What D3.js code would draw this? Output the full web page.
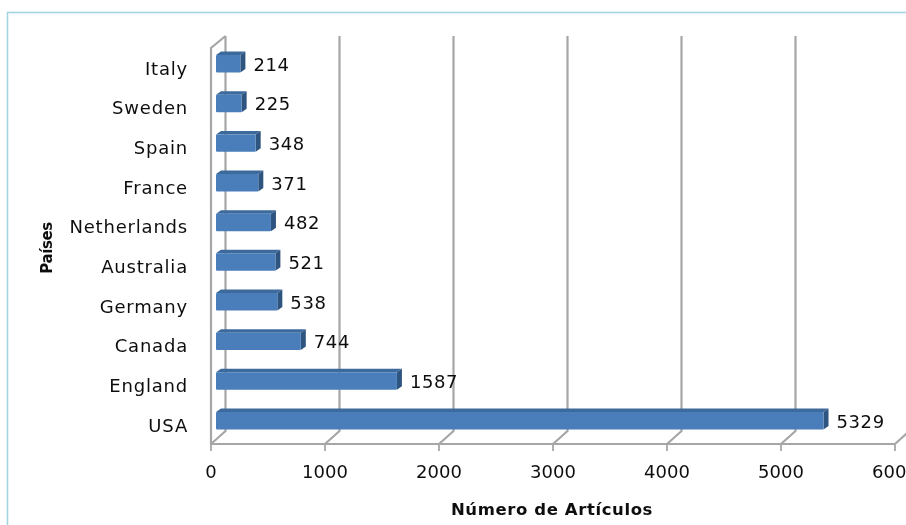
<!DOCTYPE html>
<html><head><meta charset="utf-8">
<script src="https://cdnjs.cloudflare.com/ajax/libs/d3/7.8.5/d3.min.js"></script>
<style>html,body{margin:0;padding:0;background:#fff;overflow:hidden}svg{display:block}
text{font-family:"DejaVu Sans",sans-serif;fill:#111}</style></head><body>
<svg id="c" width="906" height="525"></svg>
<script>
const paises = ["Italy","Sweden","Spain","France","Netherlands","Australia","Germany","Canada","England","USA"];
const articulos = [214,225,348,371,482,521,538,744,1587,5329];
const xTicks = [0,1000,2000,3000,4000,5000,6000];
const xTitle = "Número de Artículos";
const yTitle = "Países";

const svg = d3.select("#c");
const defs = svg.append("defs");
defs.append("filter").attr("id","soft").append("feGaussianBlur").attr("stdDeviation",0.4);
const frontL=211, frontR=895, frontB=444, frontT=48, dx=14.5, dy=13, bdx=5, bdy=3.5;
const x = d3.scaleLinear().domain([0,6000]).range([frontL,frontR]);
const y = d3.scaleBand().domain(paises).range([frontT-4,frontB-3.5]).paddingInner(0.56).paddingOuter(0.28);
const grid="#a6a6a6";

// frame
svg.append("path").attr("d","M7.5,525V12.5H906").attr("fill","none").attr("stroke","#9fd4e0").attr("stroke-width",1.5);

const root = svg.append("g").attr("filter","url(#soft)");
// back wall gridlines and floor lines
xTicks.forEach(t=>{
  const px=x(t);
  const tail = t===6000 ? "" : `V${frontT-dy+1}`;
  root.append("path").attr("d",`M${px},${frontB}l${dx},${-dy}${tail}`)
    .attr("fill","none").attr("stroke",grid).attr("stroke-width",2.2);
  root.append("line").attr("x1",px).attr("x2",px).attr("y1",frontB).attr("y2",frontB+7).attr("stroke",grid).attr("stroke-width",1.8);
});
// side wall front edge and floor front edge
root.append("path").attr("d",`M${frontL+dx},${frontT-dy+1}L${frontL},${frontT}V${frontB}H${frontR}`)
  .attr("fill","none").attr("stroke",grid).attr("stroke-width",2.2);

// bars
const bars = root.selectAll("g.bar").data(paises).join("g").attr("class","bar");
const x0 = 216;
const w = d=>x(articulos[paises.indexOf(d)])-x(0);
bars.append("path").attr("fill","#3c6a9c").attr("d",d=>{
  const t=y(d),r=x0+w(d);
  return `M${x0},${t}l${bdx},${-bdy}H${r+bdx}l${-bdx},${bdy}Z`;});
bars.append("path").attr("fill","#2f5480").attr("d",d=>{
  const t=y(d),h=y.bandwidth(),r=x0+w(d);
  return `M${r},${t}l${bdx},${-bdy}v${h}l${-bdx},${bdy}Z`;});
bars.append("rect").attr("fill","#4a7ebb").attr("x",x0).attr("y",d=>y(d)).attr("width",w).attr("height",y.bandwidth()).attr("rx",1);

// text
const txt = svg.append("g").attr("filter","url(#soft)");
txt.selectAll("text.v").data(paises).join("text").attr("class","v")
  .attr("x",d=>x0+w(d)+13).attr("y",d=>y(d)+y.bandwidth()/2+2)
  .attr("dominant-baseline","middle").attr("font-size",18).attr("letter-spacing",0.6)
  .text((d,i)=>articulos[i]);
txt.selectAll("text.c").data(paises).join("text").attr("class","c")
  .attr("x",188).attr("y",d=>y(d)+y.bandwidth()/2+6)
  .attr("text-anchor","end").attr("dominant-baseline","middle").attr("font-size",18).attr("letter-spacing",0.8)
  .text(d=>d);
txt.selectAll("text.t").data(xTicks).join("text").attr("class","t")
  .attr("x",d=>x(d)).attr("y",478).attr("text-anchor","middle").attr("font-size",18)
  .text(d=>d);
txt.append("text").attr("x",552).attr("y",515).attr("text-anchor","middle").attr("font-size",16.5).attr("letter-spacing",0.6).attr("font-weight","bold").text(xTitle);
txt.append("text").attr("transform","translate(52,248) rotate(-90)").attr("text-anchor","middle").attr("font-size",15).attr("letter-spacing",-0.4).attr("font-weight","bold").text(yTitle);
</script></body></html>
